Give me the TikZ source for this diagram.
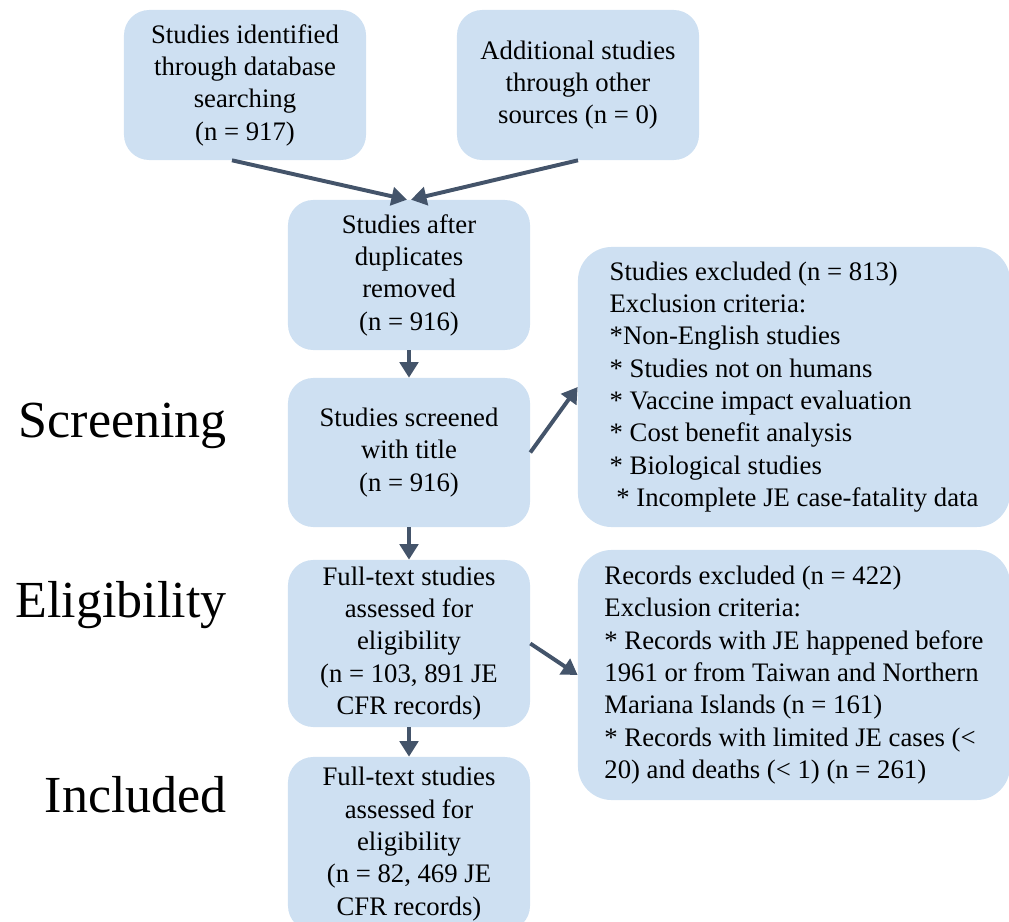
\documentclass[tikz,border=0pt]{standalone}
\usepackage{fontspec}
\setmainfont{Liberation Serif}
\usetikzlibrary{arrows.meta}

\definecolor{boxblue}{RGB}{206,224,242}
\definecolor{arrowgrey}{RGB}{68,84,106}

\tikzset{
    stage/.style={fill=boxblue, rounded corners=18pt, align=center, inner sep=0pt,
        minimum width=6.05cm, font=\fontsize{19}{23}\selectfont},
    note/.style={fill=boxblue, rounded corners=24pt, align=left, minimum width=10.8cm,
        inner sep=0pt, font=\fontsize{19}{23}\selectfont},
    flow/.style={draw=arrowgrey, line width=2.8pt, -{Triangle[length=11pt,width=13pt,fill=arrowgrey]}},
    phase/.style={anchor=base east, inner sep=0pt, font=\fontsize{37}{40}\selectfont}
}

\begin{document}
\begin{tikzpicture}[x=0.025cm, y=-0.025cm]
        \useasboundingbox (0,0) rectangle (1009,922);

        % identification
        \node[stage, minimum height=3.75cm] (ident) at (245,85) {Studies identified\\through database\\searching\\(n = 917)};
        \node[stage, minimum height=3.75cm] (other) at (578,85) {Additional studies\\through other\\sources (n = 0)};
        \node[stage, minimum height=3.75cm] (dedup) at (409,275) {Studies after\\duplicates\\removed\\(n = 916)};

        % screening
        \node[stage, minimum height=3.725cm] (screen) at (409,452.5) {Studies screened\\with title\\(n = 916)};
        \node[note, minimum height=7cm] (exclA) at (794,387) {Studies excluded (n = 813)\\Exclusion criteria:\\{}*Non-English studies\\{}* Studies not on humans\\{}* Vaccine impact evaluation\\{}* Cost benefit analysis\\{}* Biological studies\\\hspace*{0.25em}* Incomplete JE case-fatality data};

        % eligibility
        \node[stage, minimum height=4.175cm] (fulltext) at (409,643.5) {Full-text studies\\assessed for\\eligibility\\(n = 103, 891 JE\\CFR records)};
        \node[note, minimum height=6.25cm] (exclB) at (794,675) {Records excluded (n = 422)\\Exclusion criteria:\\{}* Records with JE happened before\\1961 or from Taiwan and Northern\\Mariana Islands (n = 161)\\{}* Records with limited JE cases (<\\20) and deaths (< 1) (n = 261)};

        % included
        \node[stage, minimum height=4.35cm] (included) at (409,844) {Full-text studies\\assessed for\\eligibility\\(n = 82, 469 JE\\CFR records)};

        \node[phase] (lscreen) at (227,437) {Screening};
        \node[phase] (leligible) at (227,617) {Eligibility};
        \node[phase] (lincluded) at (227,812) {Included};

        \draw[flow] ([xshift=-0.325cm]ident.south) -- ([xshift=-0.05cm]dedup.north);
        \draw[flow] (other.south) -- ([xshift=0.05cm]dedup.north);
        \draw[flow] (dedup) -- (screen);
        \draw[flow] (screen) -- (fulltext);
        \draw[flow] (fulltext) -- (included);
        \draw[flow] (screen.east) -- (exclA.west);
        \draw[flow] (fulltext.east) -- (exclB.west);
    \end{tikzpicture}
\end{document}
